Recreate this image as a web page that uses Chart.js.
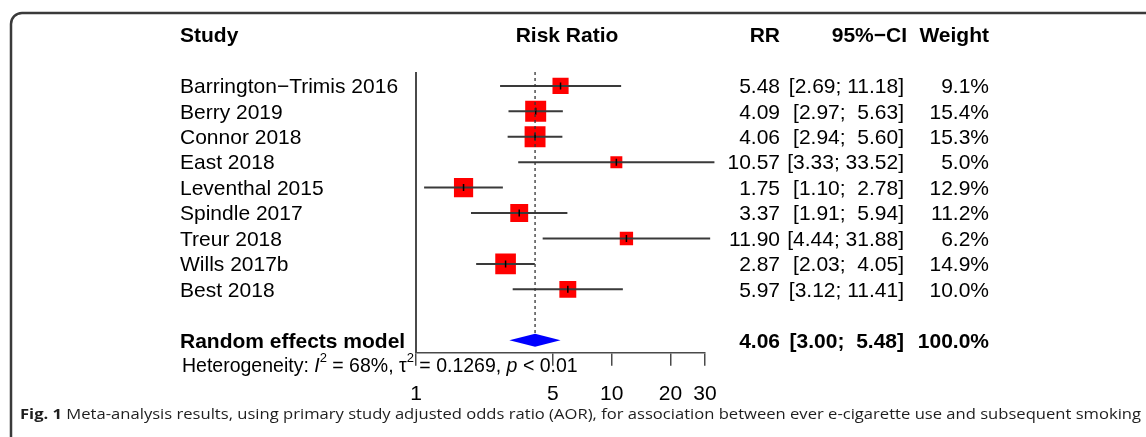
<!DOCTYPE html>
<html>
<head>
<meta charset="utf-8">
<script src="https://cdn.jsdelivr.net/npm/chart.js@4.4.0/dist/chart.umd.min.js"></script>
<style>
html,body{margin:0;padding:0;background:#fff;overflow:hidden}
#c{display:block}
</style>
</head>
<body>
<canvas id="c" width="1146" height="437" style="width:1146px;height:437px"></canvas>
<script>
// ---- data ----
const studies = ['Barrington\u2212Trimis 2016','Berry 2019','Connor 2018','East 2018','Leventhal 2015','Spindle 2017','Treur 2018','Wills 2017b','Best 2018'];
const rr      = [5.48, 4.09, 4.06, 10.57, 1.75, 3.37, 11.90, 2.87, 5.97];
const ciLow   = [2.69, 2.97, 2.94, 3.33, 1.10, 1.91, 4.44, 2.03, 3.12];
const ciHigh  = [11.18, 5.63, 5.60, 33.52, 2.78, 5.94, 31.88, 4.05, 11.41];
const weights = [9.1, 15.4, 15.3, 5.0, 12.9, 11.2, 6.2, 14.9, 10.0];
const pooledLabel = 'Random effects model';
const pooledRR = 4.06;
const pooledLow = 3.00;
const pooledHigh = 5.48;
const pooledWeight = 100.0;
const hetI2 = '68%';
const hetTau2 = '0.1269';
const hetP = '< 0.01';
const tickValues = [1, 5, 10, 20, 30];
const headers = ['Study', 'Risk Ratio', 'RR', '95%\u2212CI', 'Weight'];
const captionBold = 'Fig. 1';
const captionText = ' Meta-analysis results, using primary study adjusted odds ratio (AOR), for association between ever e-cigarette use and subsequent smoking';

// ---- helpers ----
const FONT = '"Liberation Sans", Arial, Helvetica, sans-serif';
const FS = 21;
const TY = 1.5; // baseline nudge so text centres match the marks
const f2 = v => v.toFixed(2);
const ciStr = (lo, hi) => '[' + f2(lo) + '; ' + (f2(hi).length < 5 ? ' ' : '') + f2(hi) + ']';
const pooledRow = studies.length + 1;

const ciData = [];
rr.forEach((v, i) => {
  ciData.push({x: ciLow[i], y: i});
  ciData.push({x: ciHigh[i], y: i});
  ciData.push({x: ciHigh[i], y: null});
});

const forestPlugin = {
  id: 'forest',
  beforeDraw(chart) {
    const ctx = chart.ctx;
    ctx.save();
    ctx.strokeStyle = '#3a3a3a';
    ctx.lineWidth = 2.5;
    ctx.beginPath();
    ctx.moveTo(11, 450);
    ctx.lineTo(11, 24);
    ctx.arcTo(11, 13, 22, 13, 11);
    ctx.lineTo(1160, 13);
    ctx.stroke();
    ctx.restore();
  },
  afterDatasetsDraw(chart) {
    const ctx = chart.ctx, xs = chart.scales.x, ys = chart.scales.y;
    const top = chart.chartArea.top, bottom = chart.chartArea.bottom;
    ctx.save();
    // line of no effect
    ctx.strokeStyle = '#4a4a4a';
    ctx.lineWidth = 2;
    ctx.beginPath();
    ctx.moveTo(xs.getPixelForValue(1), top);
    ctx.lineTo(xs.getPixelForValue(1), bottom);
    ctx.stroke();
    // diamond
    const yc = ys.getPixelForValue(pooledRow);
    const hh = 6.5;
    ctx.fillStyle = '#0000ff';
    ctx.beginPath();
    ctx.moveTo(xs.getPixelForValue(pooledLow), yc);
    ctx.lineTo(xs.getPixelForValue(pooledRR), yc - hh);
    ctx.lineTo(xs.getPixelForValue(pooledHigh), yc);
    ctx.lineTo(xs.getPixelForValue(pooledRR), yc + hh);
    ctx.closePath();
    ctx.fill();
    // pooled estimate dotted line
    ctx.strokeStyle = '#333';
    ctx.lineWidth = 1.3;
    ctx.setLineDash([3, 3]);
    ctx.beginPath();
    ctx.moveTo(xs.getPixelForValue(pooledRR), top);
    ctx.lineTo(xs.getPixelForValue(pooledRR), yc - hh);
    ctx.stroke();
    ctx.restore();
  },
  afterDraw(chart) {
    const ctx = chart.ctx, ys = chart.scales.y;
    const Y = r => ys.getPixelForValue(r) + TY;
    ctx.save();
    ctx.fillStyle = '#000';
    ctx.textBaseline = 'middle';
    const txt = (s, x, y, align, bold, size) => {
      ctx.font = (bold ? 'bold ' : '') + (size || FS) + 'px ' + FONT;
      ctx.textAlign = align;
      ctx.fillText(s, x, y);
    };
    // headers
    const hy = Y(-2);
    txt(headers[0], 180, hy, 'left', true);
    txt(headers[1], 567, hy, 'center', true);
    txt(headers[2], 780, hy, 'right', true);
    txt(headers[3], 907, hy, 'right', true);
    txt(headers[4], 989, hy, 'right', true);
    // study rows
    studies.forEach((s, i) => {
      const y = Y(i);
      txt(s, 180, y, 'left', false);
      txt(f2(rr[i]), 780, y, 'right', false);
      txt(ciStr(ciLow[i], ciHigh[i]), 904, y, 'right', false);
      txt(weights[i].toFixed(1) + '%', 989, y, 'right', false);
    });
    // pooled row
    const py = Y(pooledRow);
    txt(pooledLabel, 180, py, 'left', true);
    txt(f2(pooledRR), 780, py, 'right', true);
    txt(ciStr(pooledLow, pooledHigh), 904, py, 'right', true);
    txt(pooledWeight.toFixed(1) + '%', 989, py, 'right', true);
    // heterogeneity
    const hs = 19.5, ss = 13;
    const parts = [
      ['Heterogeneity: ', '', hs, 0],
      ['I', 'italic ', hs, 0],
      ['2', '', ss, -8],
      [' = ' + hetI2 + ', ', '', hs, 0],
      ['\u03c4', '', hs, 0],
      ['2', '', ss, -8],
      [' = ' + hetTau2 + ', ', '', hs, 0],
      ['p', 'italic ', hs, 0],
      [' ' + hetP, '', hs, 0]
    ];
    let hx = 182;
    const hyy = Y(pooledRow + 1) - 0.5;
    ctx.textAlign = 'left';
    parts.forEach(p => {
      ctx.font = p[1] + p[2] + 'px ' + FONT;
      ctx.fillText(p[0], hx, hyy + p[3]);
      hx += ctx.measureText(p[0]).width;
    });
    // caption
    ctx.fillStyle = '#1e1e1e';
    const cfont = '"Open Sans", "Noto Sans", sans-serif';
    ctx.font = 'bold 15px ' + cfont;
    const wb = ctx.measureText(captionBold).width;
    ctx.font = '15px ' + cfont;
    const wt = ctx.measureText(captionText).width;
    const sx = 1121 / (wb + wt);
    ctx.translate(20, 415);
    ctx.scale(sx, 1);
    ctx.font = 'bold 15px ' + cfont;
    ctx.fillText(captionBold, 0, 0);
    ctx.font = '15px ' + cfont;
    ctx.fillText(captionText, wb, 0);
    ctx.restore();
  }
};

new Chart(document.getElementById('c'), {
  type: 'scatter',
  data: {
    datasets: [
      {
        label: 'estimate',
        data: rr.map((v, i) => ({x: v, y: i})),
        pointStyle: 'line',
        pointRotation: 90,
        pointRadius: 3.5,
        pointBorderColor: '#000',
        pointBorderWidth: 1.5,
        order: 1
      },
      {
        type: 'line',
        label: '95% CI',
        data: ciData,
        borderColor: '#3a3a3a',
        borderWidth: 2,
        pointRadius: 0,
        spanGaps: false,
        fill: false,
        clip: false,
        order: 2
      },
      {
        label: 'studies',
        data: rr.map((v, i) => ({x: v, y: i})),
        pointStyle: 'rect',
        pointRadius: c => 3.78 * Math.sqrt(weights[c.dataIndex]),
        pointBackgroundColor: '#ff0000',
        pointBorderWidth: 0,
        pointBorderColor: '#ff0000',
        order: 3
      }
    ]
  },
  options: {
    responsive: false,
    animation: false,
    events: [],
    layout: {padding: {left: 416, right: 441, top: 72, bottom: 14}},
    plugins: {legend: {display: false}, tooltip: {enabled: false}},
    scales: {
      x: {
        type: 'logarithmic',
        min: 1,
        max: 30,
        afterBuildTicks: s => { s.ticks = tickValues.map(v => ({value: v})); },
        ticks: {
          callback: v => String(v),
          font: {family: FONT, size: FS},
          color: '#000',
          padding: 16,
          maxRotation: 0,
          autoSkip: false
        },
        grid: {drawOnChartArea: false, drawTicks: true, tickLength: 13, color: '#4a4a4a', lineWidth: 1.5},
        border: {display: true, color: '#4a4a4a', width: 1.5}
      },
      y: {type: 'linear', min: -0.546, max: 10.495, reverse: true, display: false}
    }
  },
  plugins: [forestPlugin]
});
</script>
</body>
</html>
